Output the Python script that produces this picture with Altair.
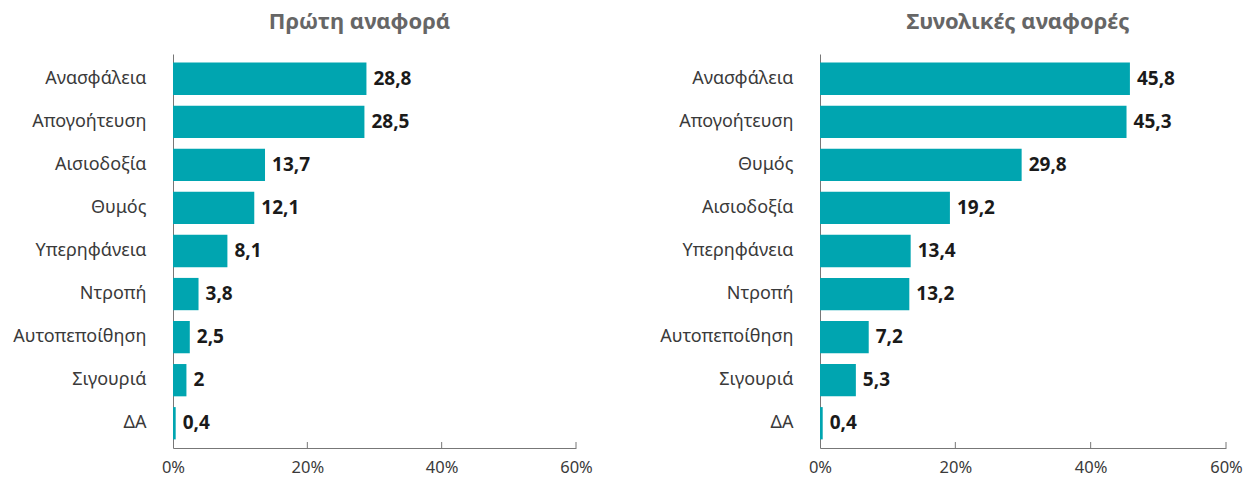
import altair as alt
import pandas as pd

first_cats = ["Ανασφάλεια", "Απογοήτευση", "Αισιοδοξία", "Θυμός", "Υπερηφάνεια",
              "Ντροπή", "Αυτοπεποίθηση", "Σιγουριά", "ΔΑ"]
first_vals = [28.8, 28.5, 13.7, 12.1, 8.1, 3.8, 2.5, 2, 0.4]

total_cats = ["Ανασφάλεια", "Απογοήτευση", "Θυμός", "Αισιοδοξία", "Υπερηφάνεια",
              "Ντροπή", "Αυτοπεποίθηση", "Σιγουριά", "ΔΑ"]
total_vals = [45.8, 45.3, 29.8, 19.2, 13.4, 13.2, 7.2, 5.3, 0.4]

tick_values = [0, 20, 40, 60]
titles = ["Πρώτη αναφορά", "Συνολικές αναφορές"]

FONT = "Noto Sans"
BAR = "#00A5B0"
H = 394


def panel(cats, vals, title, width, dx):
    df = pd.DataFrame({"cat": cats, "val": vals})
    df["lab"] = [str(v).replace(".", ",") for v in vals]
    xs = alt.Scale(domain=[0, 60], nice=False, zero=True)
    ys = alt.Scale(domain=cats, paddingInner=0.25, paddingOuter=0.2)
    base = alt.Chart(df)
    bars = base.mark_bar(color=BAR).encode(
        x=alt.X("val:Q", scale=xs,
                axis=alt.Axis(values=tick_values, title=None, grid=False, ticks=False,
                              labelExpr="datum.value + '%'", labelFontSize=16.5,
                              labelColor="#3a3a3a", labelPadding=11, labelFont=FONT,
                              domainColor="#777777", labelFlush=False)),
        y=alt.Y("cat:N", scale=ys, sort=cats,
                axis=alt.Axis(title=None, ticks=False, labelFontSize=18,
                              labelColor="#3a3a3a", labelPadding=27, labelFont=FONT,
                              domainColor="#777777", minExtent=165)),
    )
    text = base.mark_text(align="left", baseline="middle", dx=7, fontSize=19,
                          fontWeight="bold", color="#1a1a1a", font=FONT).encode(
        x=alt.X("val:Q", scale=xs), y=alt.Y("cat:N", scale=ys, sort=cats), text="lab:N")
    tdf = pd.DataFrame({"t": tick_values[1:]})
    ticks = alt.Chart(tdf).mark_rule(color="#777777", strokeWidth=1).encode(
        x=alt.X("t:Q", scale=xs), y=alt.value(H - 6), y2=alt.value(H))
    return alt.layer(bars, text, ticks).properties(
        width=width, height=H,
        title=alt.TitleParams(title, fontSize=22, fontWeight="bold", color="#666666",
                              font=FONT, offset=20, anchor="middle", dx=dx))


left = panel(first_cats, first_vals, titles[0], 403, -15)
right = panel(total_cats, total_vals, titles[1], 406, -5)

chart = alt.hconcat(left, right, spacing=62).configure_view(stroke=None).properties(
    padding={"left": 0, "top": 3, "right": 0, "bottom": 0})
chart.save("out.html", embed_options={"renderer": "svg", "actions": False})
